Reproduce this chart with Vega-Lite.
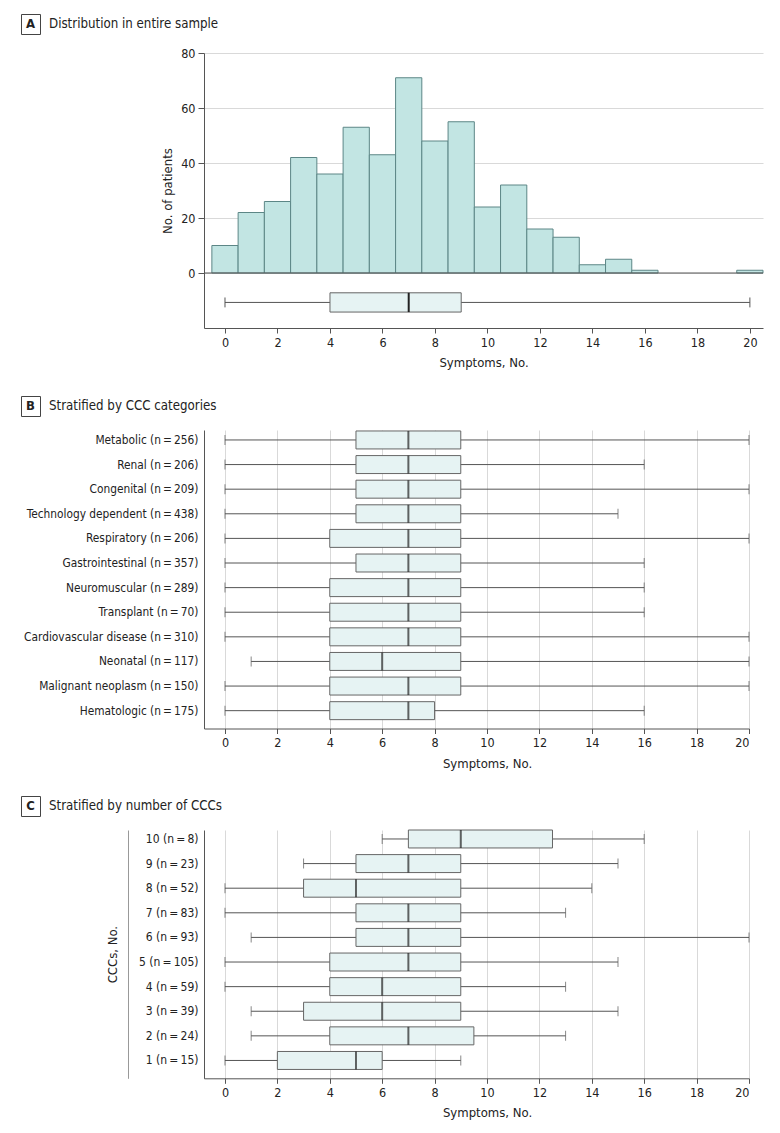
{
  "$schema": "https://vega.github.io/schema/vega-lite/v6.json",
  "padding": {"left": 20, "top": 13, "right": 5, "bottom": 5},
  "background": "white",
  "config": {
    "font": "DejaVu Sans Condensed, Lato, sans-serif",
    "view": {"stroke": null},
    "axis": {
      "labelFontSize": 12.5, "titleFontSize": 13, "labelColor": "#222", "titleColor": "#222",
      "titleFontWeight": "normal", "domainColor": "#555", "tickColor": "#555", "gridColor": "#d9d9d9",
      "labelFont": "DejaVu Sans Condensed, Lato, sans-serif", "titleFont": "DejaVu Sans Condensed, Lato, sans-serif"
    },
    "text": {"font": "DejaVu Sans Condensed, Lato, sans-serif"}
  },
  "datasets": {
    "histogram": [
      {"symptoms": 0, "bin_start": -0.5, "bin_end": 0.5, "count": 10},
      {"symptoms": 1, "bin_start": 0.5, "bin_end": 1.5, "count": 22},
      {"symptoms": 2, "bin_start": 1.5, "bin_end": 2.5, "count": 26},
      {"symptoms": 3, "bin_start": 2.5, "bin_end": 3.5, "count": 42},
      {"symptoms": 4, "bin_start": 3.5, "bin_end": 4.5, "count": 36},
      {"symptoms": 5, "bin_start": 4.5, "bin_end": 5.5, "count": 53},
      {"symptoms": 6, "bin_start": 5.5, "bin_end": 6.5, "count": 43},
      {"symptoms": 7, "bin_start": 6.5, "bin_end": 7.5, "count": 71},
      {"symptoms": 8, "bin_start": 7.5, "bin_end": 8.5, "count": 48},
      {"symptoms": 9, "bin_start": 8.5, "bin_end": 9.5, "count": 55},
      {"symptoms": 10, "bin_start": 9.5, "bin_end": 10.5, "count": 24},
      {"symptoms": 11, "bin_start": 10.5, "bin_end": 11.5, "count": 32},
      {"symptoms": 12, "bin_start": 11.5, "bin_end": 12.5, "count": 16},
      {"symptoms": 13, "bin_start": 12.5, "bin_end": 13.5, "count": 13},
      {"symptoms": 14, "bin_start": 13.5, "bin_end": 14.5, "count": 3},
      {"symptoms": 15, "bin_start": 14.5, "bin_end": 15.5, "count": 5},
      {"symptoms": 16, "bin_start": 15.5, "bin_end": 16.5, "count": 1},
      {"symptoms": 20, "bin_start": 19.5, "bin_end": 20.5, "count": 1}
    ],
    "overall": [
      {"group": "Entire sample", "min": 0, "q1": 4, "median": 7, "q3": 9, "max": 20}
    ],
    "by_category": [
      {"category": "Metabolic (n\u2009=\u2009256)", "min": 0, "q1": 5, "median": 7, "q3": 9, "max": 20},
      {"category": "Renal (n\u2009=\u2009206)", "min": 0, "q1": 5, "median": 7, "q3": 9, "max": 16},
      {"category": "Congenital (n\u2009=\u2009209)", "min": 0, "q1": 5, "median": 7, "q3": 9, "max": 20},
      {"category": "Technology dependent (n\u2009=\u2009438)", "min": 0, "q1": 5, "median": 7, "q3": 9, "max": 15},
      {"category": "Respiratory (n\u2009=\u2009206)", "min": 0, "q1": 4, "median": 7, "q3": 9, "max": 20},
      {"category": "Gastrointestinal (n\u2009=\u2009357)", "min": 0, "q1": 5, "median": 7, "q3": 9, "max": 16},
      {"category": "Neuromuscular (n\u2009=\u2009289)", "min": 0, "q1": 4, "median": 7, "q3": 9, "max": 16},
      {"category": "Transplant (n\u2009=\u200970)", "min": 0, "q1": 4, "median": 7, "q3": 9, "max": 16},
      {"category": "Cardiovascular disease (n\u2009=\u2009310)", "min": 0, "q1": 4, "median": 7, "q3": 9, "max": 20},
      {"category": "Neonatal (n\u2009=\u2009117)", "min": 1, "q1": 4, "median": 6, "q3": 9, "max": 20},
      {"category": "Malignant neoplasm (n\u2009=\u2009150)", "min": 0, "q1": 4, "median": 7, "q3": 9, "max": 20},
      {"category": "Hematologic (n\u2009=\u2009175)", "min": 0, "q1": 4, "median": 7, "q3": 8, "max": 16}
    ],
    "by_count": [
      {"cccs": "10 (n\u2009=\u20098)", "min": 6, "q1": 7, "median": 9, "q3": 12.5, "max": 16},
      {"cccs": "9 (n\u2009=\u200923)", "min": 3, "q1": 5, "median": 7, "q3": 9, "max": 15},
      {"cccs": "8 (n\u2009=\u200952)", "min": 0, "q1": 3, "median": 5, "q3": 9, "max": 14},
      {"cccs": "7 (n\u2009=\u200983)", "min": 0, "q1": 5, "median": 7, "q3": 9, "max": 13},
      {"cccs": "6 (n\u2009=\u200993)", "min": 1, "q1": 5, "median": 7, "q3": 9, "max": 20},
      {"cccs": "5 (n\u2009=\u2009105)", "min": 0, "q1": 4, "median": 7, "q3": 9, "max": 15},
      {"cccs": "4 (n\u2009=\u200959)", "min": 0, "q1": 4, "median": 6, "q3": 9, "max": 13},
      {"cccs": "3 (n\u2009=\u200939)", "min": 1, "q1": 3, "median": 6, "q3": 9, "max": 15},
      {"cccs": "2 (n\u2009=\u200924)", "min": 1, "q1": 4, "median": 7, "q3": 9.5, "max": 13},
      {"cccs": "1 (n\u2009=\u200915)", "min": 0, "q1": 2, "median": 5, "q3": 6, "max": 9}
    ]
  },
  "spacing": 25,
  "vconcat": [
    {
      "spacing": 12,
      "vconcat": [
        {
          "spacing": 8,
          "data": {"values": [{"panel": "A", "heading": "Distribution in entire sample"}]},
          "hconcat": [
            {
              "width": 19, "height": 20,
              "view": {"stroke": "#444", "strokeWidth": 1},
              "mark": {"type": "text", "fontWeight": "bold", "fontSize": 13, "color": "#222", "baseline": "middle", "align": "center"},
              "encoding": {"text": {"field": "panel"}}
            },
            {
              "width": 260, "height": 20,
              "mark": {"type": "text", "fontSize": 13.2, "color": "#222", "baseline": "middle", "align": "left"},
              "encoding": {
                "x": {"datum": 0, "type": "quantitative", "scale": {"domain": [0, 1]}, "axis": null},
                "text": {"field": "heading"}
              }
            }
          ]
        },
        {
          "spacing": 0,
          "hconcat": [
            {
              "width": 1, "height": 10,
              "data": {"values": [{"panel": "A"}]},
              "mark": {"type": "text", "text": "", "opacity": 0},
              "encoding": {}
            },
            {
              "width": 559, "height": 275,
              "layer": [
                {
                  "data": {"name": "histogram"},
                  "mark": {"type": "bar", "fill": "#c2e5e3", "stroke": "#5c8686", "strokeWidth": 1},
                  "encoding": {
                    "x": {"field": "bin_start", "type": "quantitative", "title": "Symptoms, No.",
                      "scale": {"domain": [-0.8, 20.5], "nice": false, "zero": false},
                      "axis": {"values": [0, 2, 4, 6, 8, 10, 12, 14, 16, 18, 20], "grid": false, "tickSize": 5, "labelPadding": 3, "titlePadding": 8}},
                    "x2": {"field": "bin_end"},
                    "y": {"field": "count", "type": "quantitative", "title": "No. of patients",
                      "scale": {"domain": [-20, 80], "nice": false},
                      "axis": {"values": [0, 20, 40, 60, 80], "grid": true, "tickSize": 6, "labelPadding": 3, "minExtent": 182, "titleX": -37, "titleBaseline": "middle"}},
                    "y2": {"datum": 0}
                  }
                },
                {
                  "data": {"name": "overall"},
                  "mark": {"type": "rule", "color": "#555", "strokeWidth": 1},
                  "encoding": {"y": {"datum": 0}}
                },
                {
                  "data": {"name": "overall"},
                  "mark": {"type": "rule", "color": "#555", "strokeWidth": 1},
                  "encoding": {
                    "x": {"field": "min", "type": "quantitative", "title": "Symptoms, No."},
                    "x2": {"field": "max"},
                    "y": {"datum": -10.7}
                  }
                },
                {
                  "data": {"name": "overall"},
                  "mark": {"type": "rule", "color": "#555", "strokeWidth": 1},
                  "encoding": {
                    "x": {"field": "min", "type": "quantitative", "title": "Symptoms, No."},
                    "y": {"datum": -8.9}, "y2": {"datum": -12.5}
                  }
                },
                {
                  "data": {"name": "overall"},
                  "mark": {"type": "rule", "color": "#555", "strokeWidth": 1},
                  "encoding": {
                    "x": {"field": "max", "type": "quantitative", "title": "Symptoms, No."},
                    "y": {"datum": -8.9}, "y2": {"datum": -12.5}
                  }
                },
                {
                  "data": {"name": "overall"},
                  "mark": {"type": "bar", "fill": "#e6f3f3", "stroke": "#666", "strokeWidth": 1},
                  "encoding": {
                    "x": {"field": "q1", "type": "quantitative", "title": "Symptoms, No."},
                    "x2": {"field": "q3"},
                    "y": {"datum": -7.2}, "y2": {"datum": -14.2}
                  }
                },
                {
                  "data": {"name": "overall"},
                  "mark": {"type": "rule", "color": "#222", "strokeWidth": 2},
                  "encoding": {
                    "x": {"field": "median", "type": "quantitative", "title": "Symptoms, No."},
                    "y": {"datum": -7.2}, "y2": {"datum": -14.2}
                  }
                }
              ]
            }
          ]
        }
      ]
    },
    {
      "spacing": 12,
      "vconcat": [
        {
          "spacing": 8,
          "data": {"values": [{"panel": "B", "heading": "Stratified by CCC categories"}]},
          "hconcat": [
            {
              "width": 19, "height": 20,
              "view": {"stroke": "#444", "strokeWidth": 1},
              "mark": {"type": "text", "fontWeight": "bold", "fontSize": 13, "color": "#222", "baseline": "middle", "align": "center"},
              "encoding": {"text": {"field": "panel"}}
            },
            {
              "width": 260, "height": 20,
              "mark": {"type": "text", "fontSize": 13.2, "color": "#222", "baseline": "middle", "align": "left"},
              "encoding": {
                "x": {"datum": 0, "type": "quantitative", "scale": {"domain": [0, 1]}, "axis": null},
                "text": {"field": "heading"}
              }
            }
          ]
        },
        {
          "spacing": 0,
          "hconcat": [
            {
              "width": 1, "height": 10,
              "data": {"values": [{"panel": "B"}]},
              "mark": {"type": "text", "text": "", "opacity": 0},
              "encoding": {}
            },
            {
              "width": 545, "height": 298.5,
              "data": {"name": "by_category"},
              "encoding": {
                "y": {"field": "category", "type": "nominal", "sort": null, "title": null,
                  "scale": {"paddingInner": 0.27, "paddingOuter": 0.2, "align": 0.1},
                  "axis": {"ticks": false, "labelPadding": 6, "labelFontSize": 11.8, "minExtent": 182, "labelLimit": 300}}
              },
              "layer": [
                {
                  "mark": {"type": "rule", "color": "#555", "strokeWidth": 1},
                  "encoding": {
                    "x": {"field": "min", "type": "quantitative", "title": "Symptoms, No.",
                      "scale": {"domain": [-0.8, 20], "nice": false, "zero": false},
                      "axis": {"values": [0, 2, 4, 6, 8, 10, 12, 14, 16, 18, 20], "grid": true, "tickSize": 5, "labelPadding": 3, "titlePadding": 8, "titleX": 283}},
                    "x2": {"field": "max"}
                  }
                },
                {
                  "mark": {"type": "tick", "color": "#555", "size": 10, "thickness": 1},
                  "encoding": {"x": {"field": "min", "type": "quantitative", "title": "Symptoms, No."}}
                },
                {
                  "mark": {"type": "tick", "color": "#555", "size": 10, "thickness": 1},
                  "encoding": {"x": {"field": "max", "type": "quantitative", "title": "Symptoms, No."}}
                },
                {
                  "mark": {"type": "bar", "fill": "#e6f3f3", "stroke": "#666", "strokeWidth": 1},
                  "encoding": {"x": {"field": "q1", "type": "quantitative", "title": "Symptoms, No."}, "x2": {"field": "q3"}}
                },
                {
                  "mark": {"type": "tick", "color": "#222", "size": 18, "thickness": 2},
                  "encoding": {"x": {"field": "median", "type": "quantitative", "title": "Symptoms, No."}}
                }
              ]
            }
          ]
        }
      ]
    },
    {
      "spacing": 12,
      "vconcat": [
        {
          "spacing": 8,
          "data": {"values": [{"panel": "C", "heading": "Stratified by number of CCCs"}]},
          "hconcat": [
            {
              "width": 19, "height": 20,
              "view": {"stroke": "#444", "strokeWidth": 1},
              "mark": {"type": "text", "fontWeight": "bold", "fontSize": 13, "color": "#222", "baseline": "middle", "align": "center"},
              "encoding": {"text": {"field": "panel"}}
            },
            {
              "width": 260, "height": 20,
              "mark": {"type": "text", "fontSize": 13.2, "color": "#222", "baseline": "middle", "align": "left"},
              "encoding": {
                "x": {"datum": 0, "type": "quantitative", "scale": {"domain": [0, 1]}, "axis": null},
                "text": {"field": "heading"}
              }
            }
          ]
        },
        {
          "spacing": 0,
          "hconcat": [
            {
              "width": 1, "height": 10,
              "data": {"values": [{"panel": "C"}]},
              "mark": {"type": "text", "text": "", "opacity": 0},
              "encoding": {}
            },
            {
              "width": 545, "height": 248.3,
              "data": {"name": "by_count"},
              "layer": [
                {
                  "encoding": {
                    "y": {"field": "cccs", "type": "nominal", "sort": null, "title": null,
                      "scale": {"paddingInner": 0.27, "paddingOuter": 0.18, "align": 0},
                      "axis": {"ticks": false, "labelPadding": 6, "labelFontSize": 12, "minExtent": 182, "labelLimit": 300}}
                  },
                  "layer": [
                    {
                      "mark": {"type": "rule", "color": "#555", "strokeWidth": 1},
                      "encoding": {
                        "x": {"field": "min", "type": "quantitative", "title": "Symptoms, No.",
                          "scale": {"domain": [-0.8, 20], "nice": false, "zero": false},
                          "axis": {"values": [0, 2, 4, 6, 8, 10, 12, 14, 16, 18, 20], "grid": true, "tickSize": 5, "labelPadding": 3, "titlePadding": 8, "titleX": 283}},
                        "x2": {"field": "max"}
                      }
                    },
                    {
                      "mark": {"type": "tick", "color": "#555", "size": 10, "thickness": 1},
                      "encoding": {"x": {"field": "min", "type": "quantitative", "title": "Symptoms, No."}}
                    },
                    {
                      "mark": {"type": "tick", "color": "#555", "size": 10, "thickness": 1},
                      "encoding": {"x": {"field": "max", "type": "quantitative", "title": "Symptoms, No."}}
                    },
                    {
                      "mark": {"type": "bar", "fill": "#e6f3f3", "stroke": "#666", "strokeWidth": 1},
                      "encoding": {"x": {"field": "q1", "type": "quantitative", "title": "Symptoms, No."}, "x2": {"field": "q3"}}
                    },
                    {
                      "mark": {"type": "tick", "color": "#222", "size": 18, "thickness": 2},
                      "encoding": {"x": {"field": "median", "type": "quantitative", "title": "Symptoms, No."}}
                    }
                  ]
                },
                {
                  "mark": {"type": "rule", "opacity": 0},
                  "encoding": {
                    "y": {"field": "cccs", "type": "nominal", "sort": null, "title": "CCCs, No.",
                      "axis": {"orient": "left", "offset": 76, "labels": false, "ticks": false, "domain": true, "domainColor": "#999", "titlePadding": 9}}
                  }
                }
              ],
              "resolve": {"axis": {"y": "independent"}}
            }
          ]
        }
      ]
    }
  ]
}
